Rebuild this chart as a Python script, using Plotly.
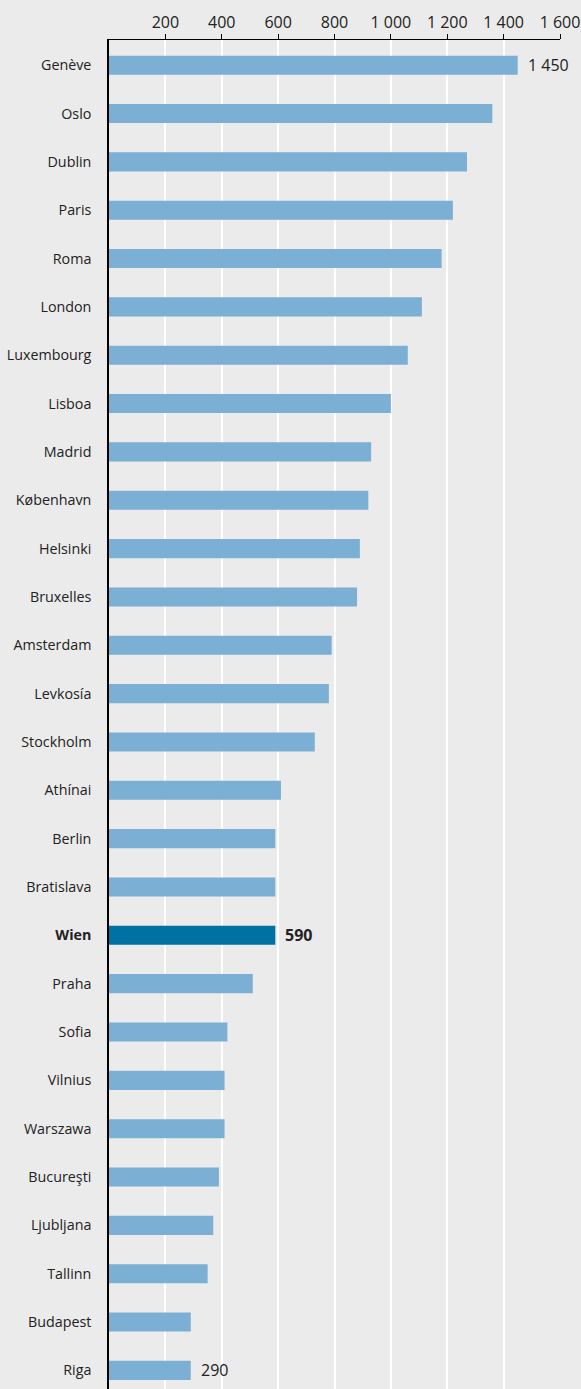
import plotly.graph_objects as go

cities = ["Genève", "Oslo", "Dublin", "Paris", "Roma", "London", "Luxembourg", "Lisboa",
          "Madrid", "København", "Helsinki", "Bruxelles", "Amsterdam", "Levkosía", "Stockholm",
          "Athínai", "Berlin", "Bratislava", "Wien", "Praha", "Sofia", "Vilnius", "Warszawa",
          "Bucureşti", "Ljubljana", "Tallinn", "Budapest", "Riga"]
values = [1450, 1360, 1270, 1220, 1180, 1110, 1060, 1000,
          930, 920, 890, 880, 790, 780, 730,
          610, 590, 590, 590, 510, 420, 410, 410,
          390, 370, 350, 290, 290]
highlight = "Wien"
labelled = ["Genève", "Wien", "Riga"]
label_text = {"Genève": "1 450", "Wien": "590", "Riga": "290"}
x_ticks = [200, 400, 600, 800, 1000, 1200, 1400, 1600]
x_tick_text = ["200", "400", "600", "800", "1 000", "1 200", "1 400", "1 600"]

LIGHT = "#7bafd3"
DARK = "#0071a3"
TXT = "#222222"
colors = [DARK if c == highlight else LIGHT for c in cities]
ticktext = [f"<b>{c}</b>" if c == highlight else c for c in cities]

fig = go.Figure(go.Bar(
    x=values, y=list(range(len(cities))), orientation="h",
    marker=dict(color=colors, line=dict(width=0)),
    width=0.395, hoverinfo="skip",
))

annotations = []
for c in labelled:
    i = cities.index(c)
    txt = label_text[c]
    if c == highlight:
        txt = f"<b>{txt}</b>"
    annotations.append(dict(x=values[i], y=i, xref="x", yref="y", text=txt,
                            showarrow=False, xanchor="left", xshift=8,
                            font=dict(size=16, color=TXT, family="Open Sans")))

n = len(cities)
fig.update_layout(
    width=581, height=1389,
    margin=dict(l=109, r=21, t=40, b=0),
    paper_bgcolor="#ebebeb", plot_bgcolor="#ebebeb",
    showlegend=False,
    font=dict(family="Open Sans", size=14.3, color=TXT),
    annotations=annotations,
    xaxis=dict(side="top", range=[0, 1600], tickvals=x_ticks, ticktext=x_tick_text,
               showgrid=True, gridcolor="#ffffff", gridwidth=1.5, zeroline=False,
               showline=True, linecolor="#000000", linewidth=1,
               ticks="outside", ticklen=5, tickcolor="#000000",
               tickfont=dict(size=16, family="Open Sans", color=TXT), fixedrange=True),
    yaxis=dict(tickvals=list(range(n)), ticktext=ticktext,
               range=[27.385, -0.521], showgrid=False, zeroline=False,
               showline=True, linecolor="#000000", linewidth=1.5,
               ticks="", ticklabelstandoff=13,
               tickfont=dict(size=14.3, family="Open Sans", color=TXT), fixedrange=True),
)

fig.write_html("out.html", config={"displayModeBar": False},
               post_script="document.body.style.margin='0';document.body.style.background='#ebebeb';document.documentElement.style.overflow='hidden';")
